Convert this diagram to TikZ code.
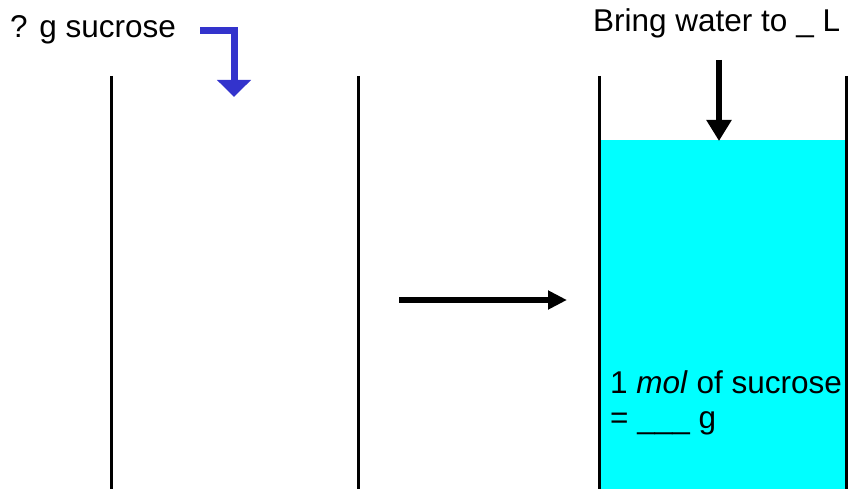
\documentclass[tikz,border=0pt]{standalone}
\usepackage{fontspec}
\setmainfont{Liberation Sans}
\usetikzlibrary{arrows.meta}
\definecolor{arrowblue}{HTML}{3333CC}
\definecolor{water}{HTML}{00FFFF}
\begin{document}
\begin{tikzpicture}[x=1pt,y=-1pt,
  wall/.style={line width=3pt},
  lbl/.style={inner sep=0pt,anchor=base west,font=\fontsize{31.5}{36}\selectfont},
  blackarrow/.style={line width=6pt,-{Triangle[length=21pt,width=24pt]}},
  bluearrow/.style={line width=7pt,draw=arrowblue,miter limit=10,-{Triangle[length=17pt,width=33pt]}}]
\useasboundingbox (0,0) rectangle (848,489);
% water
\fill[water] (600,140) rectangle (846,489);
% beakers
\draw[wall] (111,76) -- (111,489);
\draw[wall] (358,76) -- (358,489);
\draw[wall] (599,76) -- (599,489);
\draw[wall] (846.5,76) -- (846.5,489);
% labels
\node[lbl] (sugar) at (10,38) {? g sucrose};
\node[lbl] (bring) at (593,32) {Bring water to \_ L};
\node[lbl] (mol) at (610,393) {1 \textit{mol} of sucrose};
\node[lbl] (eq) at (610,428) {= \_\_\_ g};
% arrows
\coordinate (bstart) at (200,31);
\coordinate (bend) at (234,97);
\draw[bluearrow] (bstart) -| (bend);
\coordinate (dstart) at (719,60);
\coordinate (dend) at (719,141);
\draw[blackarrow] (dstart) -- (dend);
\coordinate (hstart) at (399,300);
\coordinate (hend) at (567,300);
\draw[blackarrow,-{Triangle[length=19pt,width=18pt]}] (hstart) -- (hend);
\end{tikzpicture}
\end{document}
